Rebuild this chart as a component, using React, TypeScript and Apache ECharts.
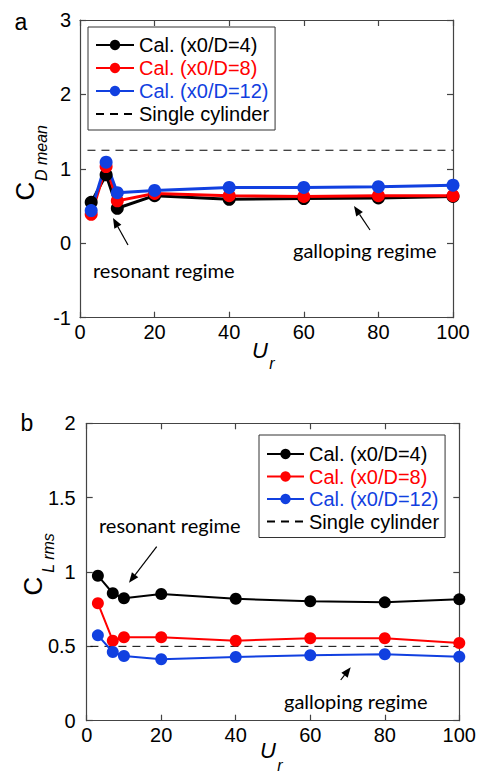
import React, { useEffect, useRef } from "react";
import * as echarts from "echarts";

const ur = [3, 7, 10, 20, 40, 60, 80, 100];
const cdMean4 = [0.55, 0.92, 0.47, 0.64, 0.59, 0.6, 0.61, 0.63];
const cdMean8 = [0.39, 1.03, 0.57, 0.67, 0.64, 0.63, 0.64, 0.64];
const cdMean12 = [0.44, 1.09, 0.68, 0.71, 0.75, 0.75, 0.76, 0.78];
const clRms4 = [0.975, 0.857, 0.823, 0.852, 0.82, 0.803, 0.796, 0.816];
const clRms8 = [0.79, 0.538, 0.561, 0.561, 0.538, 0.554, 0.554, 0.523];
const clRms12 = [0.574, 0.462, 0.435, 0.413, 0.428, 0.44, 0.447, 0.43];
const singleCdX = [2, 100];
const singleCd = 1.25;
const singleClX = [1, 100];
const singleCl = 0.5;

const names = ["Cal. (x0/D=4)", "Cal. (x0/D=8)", "Cal. (x0/D=12)", "Single cylinder"];
const colors = ["#000000", "#ff0000", "#1140e0", "#000000"];

const FONT = "'Liberation Sans', Arial, sans-serif";
const ANN = "Lato, 'Open Sans', sans-serif";

function pair(xs: number[], ys: number[]) {
  return xs.map((x, i) => [x, ys[i]]);
}

function arrow(x1: number, y1: number, x2: number, y2: number) {
  const dx = x2 - x1;
  const dy = y2 - y1;
  const len = Math.sqrt(dx * dx + dy * dy);
  const ux = dx / len;
  const uy = dy / len;
  const hl = 10;
  const hw = 4;
  const bx = x2 - ux * hl;
  const by = y2 - uy * hl;
  return [
    {
      type: "line",
      shape: { x1, y1, x2: bx, y2: by },
      style: { stroke: "#000", lineWidth: 1.2 },
    },
    {
      type: "polygon",
      shape: {
        points: [
          [x2, y2],
          [bx - uy * hw, by + ux * hw],
          [bx + uy * hw, by - ux * hw],
        ],
      },
      style: { fill: "#000" },
    },
  ];
}

function txt(text: string, x: number, y: number, size: number, opts: any = {}) {
  return {
    type: "text",
    x,
    y,
    rotation: opts.rotation || 0,
    style: {
      text,
      fill: "#000",
      font: `${opts.italic ? "italic " : ""}${size}px ${opts.family || FONT}`,
      textAlign: opts.align || "center",
      textVerticalAlign: "middle",
    },
  };
}

function axisPair(gridIndex: number, isX: boolean, min: number, max: number, interval: number, margin: number) {
  const base: any = {
    gridIndex,
    type: "value",
    min,
    max,
    interval,
    splitLine: { show: false },
    axisLine: { show: true, onZero: false, lineStyle: { color: "#444", width: 1.2 } },
    axisTick: { show: true, inside: true, length: 6, lineStyle: { color: "#444", width: 1.2 } },
  };
  return [
    {
      ...base,
      position: isX ? "bottom" : "left",
      axisLabel: { show: true, fontSize: 20, fontFamily: FONT, color: "#000", margin },
    },
    {
      ...base,
      position: isX ? "top" : "right",
      axisLabel: { show: false },
    },
  ];
}

function seriesSet(xIdx: number, yIdx: number, sets: number[][], singleX: number[], single: number, lw: number, sz: number) {
  const s: any[] = sets.map((ys, i) => ({
    name: names[i],
    type: "line",
    xAxisIndex: xIdx,
    yAxisIndex: yIdx,
    data: pair(ur, ys),
    symbol: "circle",
    symbolSize: sz,
    itemStyle: { color: colors[i] },
    lineStyle: { color: colors[i], width: lw },
  }));
  s.push({
    name: names[3],
    type: "line",
    xAxisIndex: xIdx,
    yAxisIndex: yIdx,
    data: singleX.map((x) => [x, single]),
    symbol: "none",
    showSymbol: false,
    itemStyle: { color: "#000" },
    lineStyle: { color: "#000", width: 1, type: [8, 6] },
    z: 1,
  });
  return s;
}

function legend(left: number, top: number, padding: number[], gap: number, itemWidth: number) {
  return {
    orient: "vertical",
    left,
    top,
    padding,
    itemGap: gap,
    itemWidth,
    itemHeight: 13,
    itemTextGap: 4,
    backgroundColor: "#fff",
    borderColor: "#333",
    borderWidth: 1,
    textStyle: { fontSize: 20, fontFamily: FONT },
    data: names.map((n, i) =>
      i === 3
        ? { name: n, textStyle: { color: colors[i] }, itemStyle: { opacity: 0 } }
        : { name: n, textStyle: { color: colors[i] } }
    ),
  };
}

export default function App() {
  const ref = useRef<HTMLDivElement>(null);
  useEffect(() => {
    if (!ref.current) return;
    const chart = echarts.init(ref.current, null, { renderer: "svg" });
    const xa0 = axisPair(0, true, 0, 100, 20, 4);
    const ya0 = axisPair(0, false, -1, 3, 1, 9);
    const xa1 = axisPair(1, true, 0, 100, 20, 4);
    const ya1 = axisPair(1, false, 0, 2, 0.5, 11);
    const graphics: any[] = [
      txt("a", 21, 22, 23),
      txt("b", 27, 423, 23),
      txt("C", 25, 191, 26, { rotation: Math.PI / 2 }),
      txt("D mean", 41, 153, 16, { rotation: Math.PI / 2, italic: true }),
      txt("C", 33, 586, 26, { rotation: Math.PI / 2 }),
      txt("L rms", 48, 553, 16, { rotation: Math.PI / 2, italic: true }),
      txt("U", 260, 350, 22, { italic: true }),
      txt("r", 272, 363.5, 16, { italic: true }),
      txt("U", 268, 750, 22, { italic: true }),
      txt("r", 280, 765, 16, { italic: true }),
      txt("resonant regime", 93, 270, 20, { family: ANN, align: "left" }),
      txt("galloping regime", 293, 249.5, 20, { family: ANN, align: "left" }),
      txt("resonant regime", 99, 525, 20, { family: ANN, align: "left" }),
      txt("galloping regime", 284, 700.5, 20, { family: ANN, align: "left" }),
      ...arrow(128, 245, 113, 218),
      ...arrow(370, 230, 354, 206),
      ...arrow(156.7, 546.7, 129, 582.7),
      ...arrow(340.7, 680, 350.7, 667.3),
    ];
    chart.setOption({
      animation: false,
      textStyle: { fontFamily: FONT },
      grid: [
        { left: 80, top: 20, width: 373, height: 297.7 },
        { left: 86.7, top: 423.3, width: 372.6, height: 297.4 },
      ],
      xAxis: [...xa0, ...xa1],
      yAxis: [...ya0, ...ya1],
      legend: [legend(88, 27, [8, 6, 6, 7], 3, 38), legend(259, 435, [9, 6, 6, 7], 2.5, 37)],
      series: [
        ...seriesSet(0, 0, [cdMean4, cdMean8, cdMean12], singleCdX, singleCd, 3, 13),
        ...seriesSet(2, 2, [clRms4, clRms8, clRms12], singleClX, singleCl, 2, 12),
      ],
      graphic: graphics,
    });
    return () => chart.dispose();
  }, []);
  return (
    <div
      ref={ref}
      style={{ position: "absolute", left: 0, top: 0, width: 483, height: 774, background: "#fff" }}
    />
  );
}
